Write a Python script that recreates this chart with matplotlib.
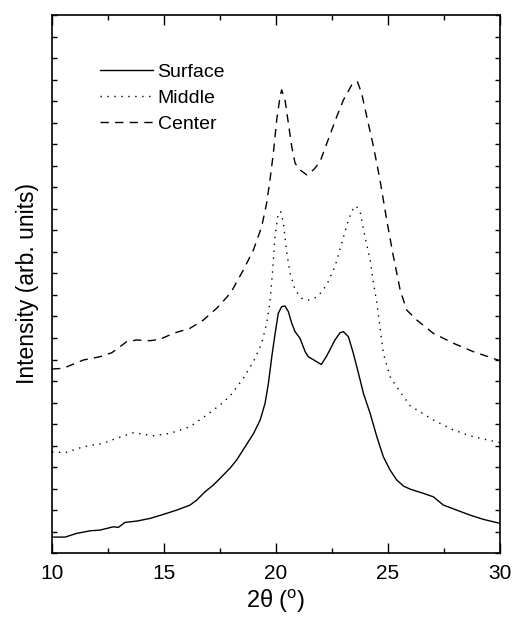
import numpy as np
import matplotlib
matplotlib.use("Agg")
import matplotlib.pyplot as plt
from matplotlib.ticker import MultipleLocator, NullFormatter

plt.rcParams['font.family'] = ['Liberation Sans', 'DejaVu Sans']
plt.rcParams['mathtext.fontset'] = 'custom'
plt.rcParams['mathtext.rm'] = 'Liberation Sans'

# значения (интенсивность в условных единицах)
surf_x = [10.0, 10.58, 11.1, 11.7, 12.14, 12.74, 12.96, 13.26, 13.78, 14.38, 14.97, 15.57,
          16.16, 16.46, 16.83, 17.2, 17.57, 17.95, 18.24, 18.62, 19.0, 19.29, 19.51, 19.66,
          19.81, 19.96, 20.1, 20.25, 20.4, 20.55, 20.7, 20.85, 21.07, 21.3, 21.44, 21.74,
          22.02, 22.26, 22.63, 22.86, 23.01, 23.23, 23.45, 23.68, 23.9, 24.2, 24.5, 24.79,
          25.09, 25.39, 25.69, 25.98, 26.58, 27.02, 27.47, 28.06, 28.66, 29.26, 30.0]
surf_y = [16, 16, 19.7, 22.3, 23, 26.3, 25.7, 30.7, 32, 34.7, 38.7, 43,
          48, 53, 61.3, 68, 76.3, 85, 93, 106.3, 119.7, 133, 149.7, 169.7,
          196.3, 219.7, 239.7, 246.3, 247, 241.3, 229.7, 221.3, 214.7, 201.3, 196.3, 192.3,
          188.5, 197, 213, 220.3, 221.3, 216.3, 199.7, 179.7, 159.7, 139.7, 116.3, 96.3,
          83, 73, 67, 64, 59.7, 56.3, 48, 43, 38, 33.7, 29.7]

mid_x = [10.0, 10.58, 11.4, 12.29, 12.88, 13.63, 14.52, 15.27, 16.16, 16.9,
         17.5, 17.95, 18.54, 18.99, 19.36, 19.58, 19.73, 19.85, 19.95, 20.1,
         20.21, 20.33, 20.48, 20.63, 20.85, 21.15, 21.44, 21.85, 22.26, 22.63,
         22.93, 23.23, 23.45, 23.57, 23.75, 23.97, 24.2, 24.35, 24.5, 24.64,
         24.79, 25.09, 25.54, 26.0, 26.43, 27.02, 27.92, 28.81, 30.0]
mid_y = [101.3, 100.3, 106.3, 109.7, 114.7, 120.3, 117.3, 119.7, 126.3, 138,
         148, 157, 174.7, 191.3, 209.7, 229.7, 251, 283, 316.3, 339.7,
         341.3, 329.7, 299.7, 279.7, 263, 254.7, 253, 256, 268, 286.3,
         309.7, 333, 344.7, 347, 341.3, 316.3, 293, 269.7, 250, 226.3,
         199.7, 176.3, 161, 147, 141.3, 133, 123, 116.3, 110.3]

cen_x = [10.0, 10.5, 11.4, 12.14, 12.67, 13.33, 13.78, 14.38, 14.82, 15.42,
         16.16, 16.76, 17.35, 17.8, 18.0, 18.54, 18.99, 19.36, 19.58, 19.73,
         19.88, 20.03, 20.18, 20.25, 20.4, 20.55, 20.7, 20.85, 21.07, 21.37,
         21.67, 21.96, 22.34, 22.71, 23.01, 23.38, 23.63, 23.82, 24.05, 24.35,
         24.64, 24.94, 25.24, 25.54, 25.83, 26.28, 27.02, 27.92, 28.81, 30.0]
cen_y = [184, 184.7, 193, 196.3, 200.3, 211.3, 213, 212.3, 213.7, 219.7,
         224.7, 233, 244.7, 255.7, 261, 283, 303, 326.3, 349.7, 373,
         399.7, 433, 456.3, 463, 453, 429.7, 406.3, 389.7, 383, 378,
         383, 391, 414, 436.3, 453, 468, 471.3, 459.7, 436.3, 406.3,
         373, 333, 296.3, 263, 243, 233, 219.7, 209.7, 201.3, 192.3]

fig = plt.figure(figsize=(5.15, 6.18), dpi=100)
ax = fig.add_axes([0.101, 0.105, 0.870, 0.871])

ax.plot(surf_x, surf_y, color='black', lw=1.0, ls='-', label='Surface')
ax.plot(mid_x, mid_y, color='black', lw=1.0, ls=(0, (1, 4)), label='Middle')
ax.plot(cen_x, cen_y, color='black', lw=1.0, ls=(0, (6, 4.5)), label='Center')

ax.set_xlim(10, 30)
ax.set_ylim(0, 538)
ax.xaxis.set_major_locator(MultipleLocator(5))
ax.xaxis.set_minor_locator(MultipleLocator(2.5))
ax.yaxis.set_major_locator(MultipleLocator(21.5))
ax.yaxis.set_major_formatter(NullFormatter())
ax.tick_params(axis='x', which='major', direction='in', length=7, width=1,
               top=True, labelsize=15, pad=8)
ax.tick_params(axis='x', which='minor', direction='in', length=3.5, width=1, top=True)
ax.tick_params(axis='y', which='major', direction='in', length=3.5, width=1, right=True)
for s in ax.spines.values():
    s.set_linewidth(1.2)

ax.set_xlabel('2θ ($^{\\rm o}$)', fontsize=17, labelpad=3)
ax.set_ylabel('Intensity (arb. units)', fontsize=16.5, labelpad=6)

leg = ax.legend(loc='upper left', bbox_to_anchor=(0.069, 0.942), frameon=False,
                fontsize=14, handlelength=2.68, handletextpad=0.26, labelspacing=0.42)

plt.savefig('out.png', dpi=100)
